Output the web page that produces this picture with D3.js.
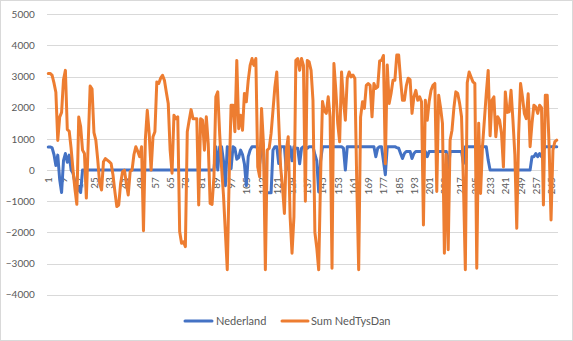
<!DOCTYPE html>
<html><head><meta charset="utf-8">
<script src="https://cdn.jsdelivr.net/npm/d3@7"></script>
<style>body{margin:0;background:#fff}svg{display:block}</style>
</head><body>
<svg id="chart" width="573" height="341"></svg>
<script>
const categories = d3.range(1, 269);
const tickLabels = [1,9,17,25,33,41,49,57,65,73,81,89,97,105,113,121,129,137,145,153,161,169,177,185,193,201,209,217,225,233,241,249,257,265];
const yTicks = [-4000,-3000,-2000,-1000,0,1000,2000,3000,4000,5000];
const seriesNames = ["Nederland", "Sum NedTysDan"];
const seriesColors = ["#4472C4", "#ED7D31"];

const nederland = [
740,740,720,500,150,480,-300,-720,300,530,
250,480,0,-100,-400,-700,-550,-720,0,0,
0,0,0,0,0,0,0,0,0,0,
0,0,0,0,0,0,0,0,0,0,
0,0,0,0,0,0,0,0,0,0,
0,0,0,0,0,0,0,0,0,0,
0,0,0,0,0,0,0,0,0,0,
0,0,0,0,0,0,0,0,0,0,
0,0,0,0,0,0,0,0,
750,0,750,750,300,-500,750,700,50,750,700,350,
400,640,500,200,-500,430,640,750,750,750,
700,210,700,700,-730,-730,-730,-730,640,750,
750,210,750,750,750,0,750,750,300,750,
700,700,200,700,750,750,700,750,750,750,
500,300,-700,300,750,750,750,750,750,750,
750,750,750,750,750,700,0,750,750,750,
750,750,750,750,750,750,750,750,750,750,
750,750,430,700,750,750,300,-150,750,750,
750,750,750,720,700,530,370,530,600,600,
600,370,530,600,600,600,600,600,600,430,
600,600,600,600,600,600,600,600,600,600,
-100,600,600,600,600,600,600,600,210,750,
750,750,750,750,750,750,750,750,750,750,
750,320,0,0,0,0,0,0,0,0,
0,0,0,0,0,0,0,0,0,0,
0,0,0,0,430,430,530,430,530,430,
640,750,750,750,750,750,750,750
];

const sumNedTysDan = [
3100,3100,3050,2800,2500,950,1700,1850,2900,3200,
1300,1250,700,0,-600,-1100,1700,1400,640,530,
-900,900,2700,2600,1200,950,320,-430,-640,270,
370,320,270,210,-160,-700,-1170,-1120,-430,-50,
0,-430,-800,-50,0,500,750,600,430,750,
-1950,1000,1920,1170,0,1070,1230,2830,2780,2950,
3040,2880,2500,2140,640,-100,1760,1650,1710,-1975,
-2350,-2300,-2460,1230,1600,1940,1650,1650,1650,-1120,
1650,1600,640,1710,850,-1070,-1100,-210,2350,2510,
1170,100,-800,-2000,-3200,-210,2080,2080,1230,3520,
1330,1760,1280,2460,2190,2880,3360,3580,3360,3580,
100,-210,1980,850,-3200,640,700,1170,1920,2670,
3150,1600,100,-530,-1390,640,1070,-1500,-2670,-1500,
3520,3580,3200,3580,3360,-1000,3520,3470,3200,2240,
-2000,-2500,-3200,-210,2200,1900,1820,2350,1710,-3150,
3420,2560,1500,910,3150,2240,1600,2940,3150,2990,
3050,2940,-430,-3200,1700,2190,1980,2720,2780,2720,
1710,2780,2620,2670,3500,3520,3680,200,3370,2140,
2460,2880,2880,3690,3690,2900,2240,2240,2700,2950,
2900,1820,2350,2560,2240,2350,2190,-1760,2240,1600,
2200,2560,2720,2780,-690,2400,2000,1500,-2670,500,
-2560,960,1280,2000,2510,2460,2140,1710,-430,-3200,
2800,3150,2990,2830,2780,-3150,1500,-750,750,1600,
2460,3200,1100,2240,2350,1070,1710,1600,1170,100,
2510,1850,1870,2560,1600,500,-1870,1170,2780,2350,
1820,1650,2450,750,1500,2080,2030,1820,2080,2000,
-1120,2400,2400,750,-1600,640,910,960
];

const W = 573, H = 341;
const plotLeft = 47.3, plotRight = 557.7, plotTop = 14.3, plotBottom = 294.7;
const font = "Lato, 'Open Sans', sans-serif";
const textColor = "#595959";
const gridColor = "#D9D9D9";

const svg = d3.select("#chart");
svg.append("rect").attr("x", 0.5).attr("y", 0.5).attr("width", W - 1).attr("height", H - 1)
  .attr("fill", "#fff").attr("stroke", gridColor);

const x = d3.scalePoint().domain(categories).range([plotLeft, plotRight]).padding(0.5);
const y = d3.scaleLinear().domain([-4000, 5000]).range([plotBottom, plotTop]);

// Y axis with gridlines
const gy = svg.append("g").attr("transform", `translate(${plotLeft},0)`)
  .call(d3.axisLeft(y).tickValues(yTicks).tickSize(-(plotRight - plotLeft)).tickPadding(12.5).tickFormat(d3.format("d")));
gy.select(".domain").remove();
gy.selectAll(".tick line").attr("stroke", gridColor).attr("shape-rendering", "crispEdges");
gy.selectAll(".tick text").attr("fill", textColor).style("font-family", font).style("font-size", "10px");

// X axis at zero
const gx = svg.append("g").attr("transform", `translate(0,${y(0)})`)
  .call(d3.axisBottom(x).tickValues(tickLabels).tickSize(0));
gx.select(".domain").attr("stroke", gridColor).attr("shape-rendering", "crispEdges");
gx.selectAll(".tick text")
  .attr("transform", "rotate(-90)")
  .attr("x", -7).attr("y", 0).attr("dy", "0.35em")
  .attr("text-anchor", "end")
  .attr("fill", textColor).style("font-family", font).style("font-size", "10px");

// Lines
const line = d3.line().x((d, i) => x(categories[i])).y(d => y(d));
[nederland, sumNedTysDan].forEach((s, k) => {
  svg.append("path").datum(s)
    .attr("d", line)
    .attr("fill", "none")
    .attr("stroke", seriesColors[k])
    .attr("stroke-width", 3)
    .attr("stroke-linejoin", "round")
    .attr("stroke-linecap", "round");
});

// Legend
const legendY = 321;
const legendItems = [{x0: 185, x1: 212, tx: 216}, {x0: 282, x1: 308, tx: 311}];
legendItems.forEach((it, k) => {
  svg.append("line").attr("x1", it.x0).attr("x2", it.x1).attr("y1", legendY).attr("y2", legendY)
    .attr("stroke", seriesColors[k]).attr("stroke-width", 3).attr("stroke-linecap", "round");
  svg.append("text").attr("x", it.tx).attr("y", legendY).attr("dy", "0.35em")
    .attr("fill", textColor).style("font-family", font).style("font-size", "11px")
    .text(seriesNames[k]);
});
</script>
</body></html>
